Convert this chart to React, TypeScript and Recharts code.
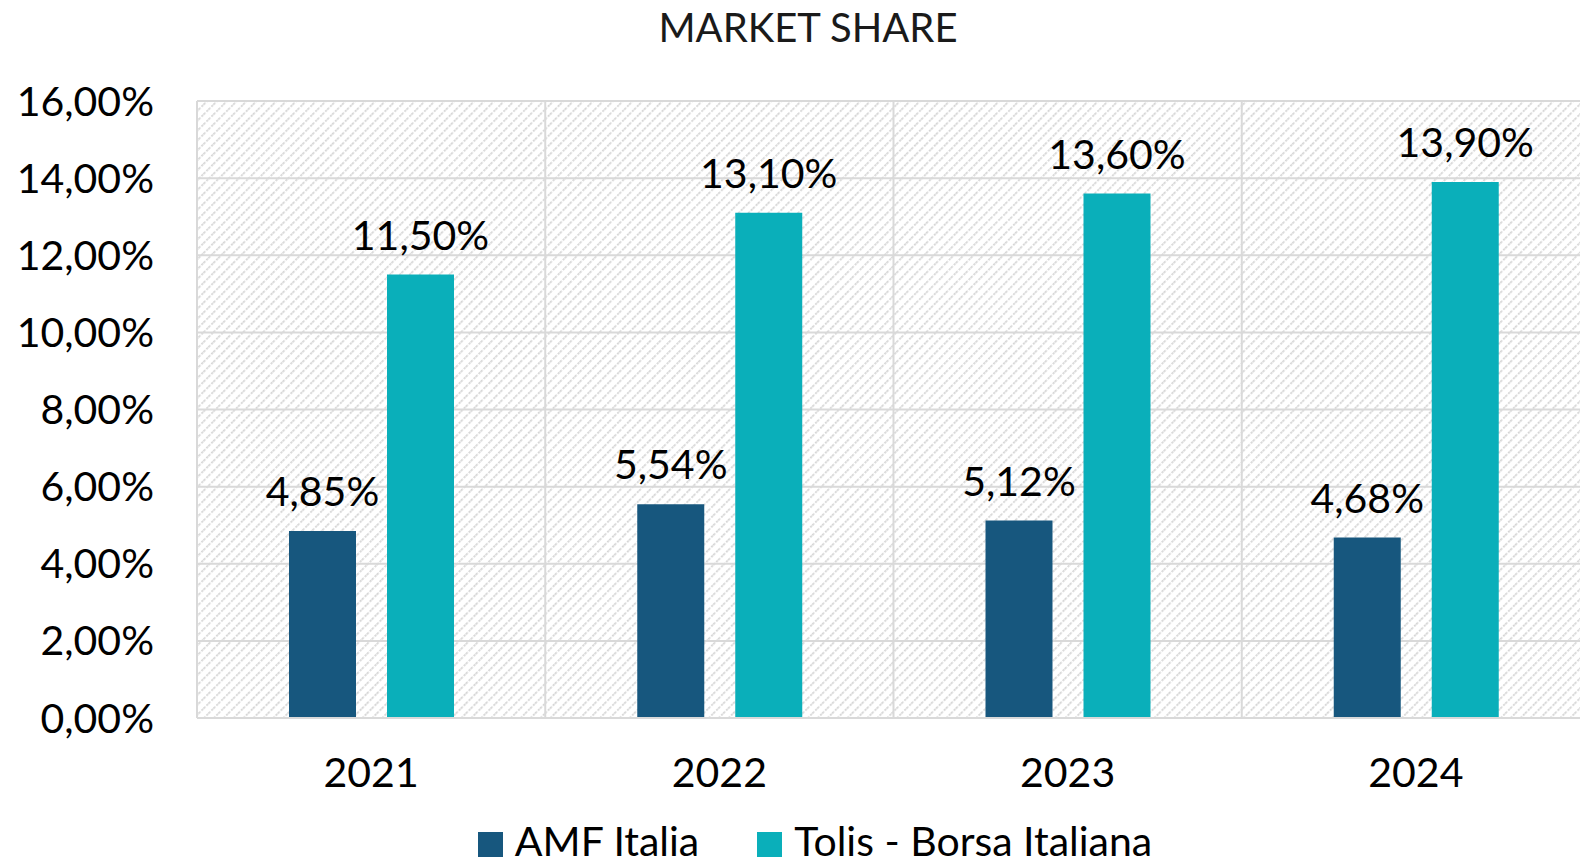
import React from "react";
import {
	Bar,
	BarChart,
	CartesianGrid,
	LabelList,
	Legend,
	XAxis,
	YAxis,
} from "recharts";

// Values (percent)
const years = ["2021", "2022", "2023", "2024"];
const amfItalia = [4.85, 5.54, 5.12, 4.68];
const tolisBorsa = [11.5, 13.1, 13.6, 13.9];
const yTicks = [0, 2, 4, 6, 8, 10, 12, 14, 16];

const AMF_COLOR = "#17577E";
const TOLIS_COLOR = "#0AAFBA";
const GRID_COLOR = "#D9D9D9";
const FONT = "Lato, 'Open Sans', sans-serif";
const FS = 41;

const data = years.map((year, i) => ({
	year,
	amf: amfItalia[i],
	tolis: tolisBorsa[i],
}));

const fmt = (v: number) => v.toFixed(2).replace(".", ",") + "%";

function LegendContent() {
	const items = [
		{ label: "AMF Italia", color: AMF_COLOR },
		{ label: "Tolis - Borsa Italiana", color: TOLIS_COLOR },
	];
	return (
		<div style={{ display: "flex", justifyContent: "center", gap: 58, fontFamily: FONT, fontSize: FS, lineHeight: 1, color: "#000", paddingTop: 22 }}>
			{items.map(item => (
				<div key={item.label} style={{ display: "flex", alignItems: "center" }}>
					<span style={{ display: "inline-block", width: 25, height: 25, background: item.color, marginRight: 12, marginTop: 8 }} />
					<span>{item.label}</span>
				</div>
			))}
		</div>
	);
}

export default function App() {
	return (
		<div style={{ position: "absolute", left: 0, top: 0, width: 1580, height: 866, overflow: "hidden", background: "#fff" }}>
			<div
				style={{
					position: "absolute",
					top: 3,
					left: 0,
					width: 1616,
					textAlign: "center",
					fontFamily: FONT,
					fontSize: 40,
					color: "#1a1a1a",
				}}
			>
				MARKET SHARE
			</div>
			<BarChart
				width={1590}
				height={866}
				data={data}
				margin={{ top: 101, right: 0, left: 0, bottom: 0 }}
				barCategoryGap="26%"
				barGap={31}
			>
				<defs>
					<pattern id="hatch" width="7" height="7" patternUnits="userSpaceOnUse" patternTransform="rotate(-45)">
						<line x1="0" y1="0" x2="7" y2="0" stroke="#D6D6D6" strokeWidth="3.4" strokeDasharray="2.5 1.5" />
					</pattern>
				</defs>
				<CartesianGrid
					fill="url(#hatch)"
					stroke={GRID_COLOR}
					strokeWidth={2}
					verticalCoordinatesGenerator={({ offset }: any) =>
						years.map((_, i) => offset.left + (i * offset.width) / years.length)
					}
				/>
				<XAxis
					dataKey="year"
					axisLine={{ stroke: GRID_COLOR, strokeWidth: 2 }}
					tickLine={false}
					tickMargin={34}
					height={80}
					tick={{ fill: "#000", fontSize: FS, fontFamily: FONT }}
				/>
				<YAxis
					width={197}
					domain={[0, 16]}
					ticks={yTicks}
					tickFormatter={fmt}
					axisLine={false}
					tickLine={false}
					tickMargin={37}
					tick={{ fill: "#000", fontSize: FS, fontFamily: FONT }}
				/>
				<Legend verticalAlign="bottom" height={68} content={<LegendContent />} wrapperStyle={{ left: 20 }} />
				<Bar dataKey="amf" name="AMF Italia" fill={AMF_COLOR} barSize={67} isAnimationActive={false}>
					<LabelList dataKey="amf" position="top" offset={25} formatter={(v: any) => fmt(Number(v))} style={{ fill: "#000", fontSize: FS, fontFamily: FONT }} />
				</Bar>
				<Bar dataKey="tolis" name="Tolis - Borsa Italiana" fill={TOLIS_COLOR} barSize={67} isAnimationActive={false}>
					<LabelList dataKey="tolis" position="top" offset={25} formatter={(v: any) => fmt(Number(v))} style={{ fill: "#000", fontSize: FS, fontFamily: FONT }} />
				</Bar>
			</BarChart>
		</div>
	);
}
